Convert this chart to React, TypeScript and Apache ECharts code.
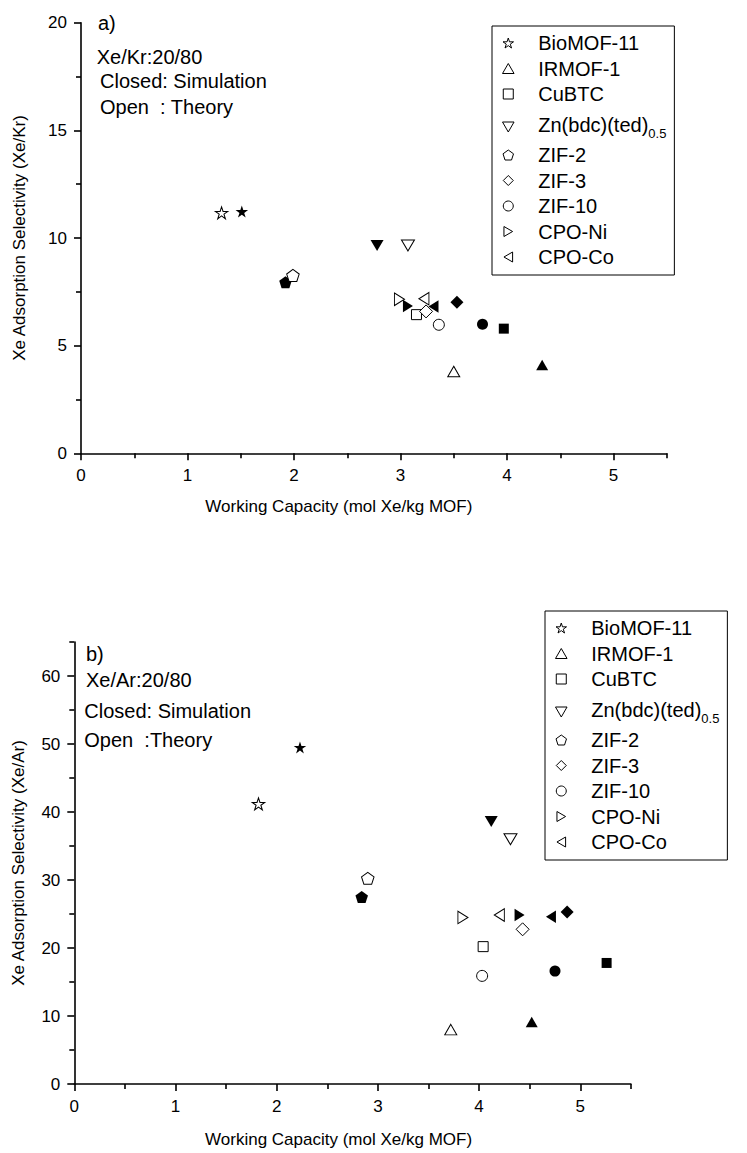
import React, { useEffect, useRef } from "react";
import * as echarts from "echarts";

// ---------- data ----------
const materials = [
  "BioMOF-11",
  "IRMOF-1",
  "CuBTC",
  "Zn(bdc)(ted)0.5",
  "ZIF-2",
  "ZIF-3",
  "ZIF-10",
  "CPO-Ni",
  "CPO-Co",
];

// a) Xe/Kr 20/80 : [working capacity, selectivity]
const krTheory = [
  [1.32, 11.17],
  [3.5, 3.8],
  [3.15, 6.44],
  [3.07, 9.65],
  [1.99, 8.26],
  [3.24, 6.59],
  [3.36, 5.97],
  [2.99, 7.15],
  [3.22, 7.18],
];
const krSimulation = [
  [1.51, 11.23],
  [4.33, 4.1],
  [3.97, 5.79],
  [2.78, 9.65],
  [1.92, 7.95],
  [3.53, 7.02],
  [3.77, 5.99],
  [3.07, 6.84],
  [3.31, 6.82],
];

// b) Xe/Ar 20/80
const arTheory = [
  [1.82, 41.2],
  [3.72, 8.0],
  [4.04, 20.2],
  [4.31, 36.0],
  [2.9, 30.25],
  [4.43, 22.75],
  [4.03, 15.9],
  [3.84, 24.5],
  [4.2, 24.85],
];
const arSimulation = [
  [2.23, 49.5],
  [4.52, 9.1],
  [5.26, 17.8],
  [4.12, 38.6],
  [2.84, 27.5],
  [4.87, 25.3],
  [4.75, 16.6],
  [4.4, 24.85],
  [4.71, 24.6],
];

const xMajor = [0, 1, 2, 3, 4, 5];
const xMinor = [0.5, 1.5, 2.5, 3.5, 4.5, 5.5];
const krYMajor = [0, 5, 10, 15, 20];
const krYMinor = [2.5, 7.5, 12.5, 17.5];
const arYMajor = [0, 10, 20, 30, 40, 50, 60];
const arYMinor = [5, 15, 25, 35, 45, 55, 65];

// ---------- styles ----------
const FONT = '"Liberation Sans", Arial, Helvetica, sans-serif';

const shapes = {
  star: "path://M50 0L61.17 34.63L97.55 34.55L68.07 55.87L79.39 90.45L50 69L20.61 90.45L31.93 55.87L2.45 34.55L38.83 34.63Z",
  up: "path://M50 0L100 86.6L0 86.6Z",
  square: "path://M0 0L100 0L100 100L0 100Z",
  down: "path://M0 0L100 0L50 86.6Z",
  pentagon: "path://M50 0L97.55 34.55L79.39 90.45L20.61 90.45L2.45 34.55Z",
  diamond: "path://M50 0L100 50L50 100L0 50Z",
  circle: "circle",
  right: "path://M0 0L86.6 50L0 100Z",
  left: "path://M86.6 0L0 50L86.6 100Z",
};

const markers = [
  { symbol: shapes.star, size: [12.5, 12] },
  { symbol: shapes.up, size: [12, 10.5] },
  { symbol: shapes.square, size: [10, 10] },
  { symbol: shapes.down, size: [13, 11] },
  { symbol: shapes.pentagon, size: [12.5, 12] },
  { symbol: shapes.diamond, size: [13, 13] },
  { symbol: shapes.circle, size: [11, 11] },
  { symbol: shapes.right, size: [10, 12.5] },
  { symbol: shapes.left, size: [10, 12.5] },
];

const labelStyle = { color: "#000", fontSize: 17, fontFamily: FONT };

function mainAxis(gridIndex: number, min: number, max: number, major: number[], extra: any) {
  return {
    type: "value",
    gridIndex,
    min,
    max,
    axisLine: { show: true, onZero: false, lineStyle: { color: "#000", width: 1.6 } },
    axisTick: { show: true, length: 7, customValues: major, lineStyle: { color: "#000", width: 1.6 } },
    axisLabel: { show: true, customValues: major, ...labelStyle, margin: 14 },
    splitLine: { show: false },
    ...extra,
  };
}
function minorAxis(gridIndex: number, min: number, max: number, minor: number[], position: string) {
  return {
    type: "value",
    gridIndex,
    min,
    max,
    position,
    axisLine: { show: false, onZero: false },
    axisTick: { show: true, length: 5, customValues: minor, lineStyle: { color: "#000", width: 1.6 } },
    axisLabel: { show: false },
    splitLine: { show: false },
  };
}

function buildSeries(theory: number[][], sim: number[][], axisIndex: number) {
  const out: any[] = [];
  materials.forEach((name, i) => {
    out.push({
      type: "scatter",
      name,
      xAxisIndex: axisIndex,
      yAxisIndex: axisIndex,
      data: [theory[i]],
      symbol: markers[i].symbol,
      symbolSize: markers[i].size,
      itemStyle: { color: "#fff", borderColor: "#000", borderWidth: 1, opacity: 1 },
      z: 4,
      silent: true,
    });
    out.push({
      type: "scatter",
      name,
      xAxisIndex: axisIndex,
      yAxisIndex: axisIndex,
      data: [sim[i]],
      symbol: markers[i].symbol,
      symbolSize: markers[i].size,
      itemStyle: { color: "#000", borderWidth: 0, opacity: 1 },
      z: 3,
      silent: true,
    });
  });
  return out;
}

function legend(left: number, top: number) {
  return {
    orient: "vertical",
    left,
    top,
    padding: [7, 8, 8, 10],
    itemWidth: 50,
    itemHeight: 10,
    itemGap: 5.5,
    borderColor: "#000",
    borderWidth: 1,
    borderRadius: 0,
    selectedMode: false,
    data: materials.map((name, i) => ({ name, icon: markers[i].symbol })),
    itemStyle: { color: "#fff", borderColor: "#000", borderWidth: 1 },
    formatter: (name: string) =>
      name === "Zn(bdc)(ted)0.5" ? "{m|Zn(bdc)(ted)}{s|0.5}" : name,
    textStyle: {
      color: "#000",
      fontSize: 20,
      fontFamily: FONT,
      rich: {
        m: { fontSize: 20, fontFamily: FONT, color: "#000", lineHeight: 25, verticalAlign: "top" },
        s: { fontSize: 13, fontFamily: FONT, color: "#000", lineHeight: 14, verticalAlign: "bottom", padding: [17, 0, 0, 0] },
      },
    },
  };
}

function txt(text: string, x: number, y: number) {
  return {
    type: "text",
    x,
    y,
    silent: true,
    style: { text, fill: "#000", fontSize: 20, fontFamily: FONT, align: "left", verticalAlign: "middle" },
  };
}

export default function App() {
  const ref = useRef<HTMLDivElement>(null);
  useEffect(() => {
    if (!ref.current) return;
    const chart = echarts.init(ref.current, null, { renderer: "svg" });
    const nameStyle = { color: "#000", fontSize: 17, fontFamily: FONT };
    chart.setOption({
      animation: false,
      backgroundColor: "#fff",
      grid: [
        { left: 81, top: 22.7, width: 585.75, height: 430.6 },
        { left: 74.3, top: 642, width: 556.6, height: 442 },
      ],
      xAxis: [
        mainAxis(0, 0, 5.5, xMajor, {
          position: "bottom",
          name: "Working Capacity (mol Xe/kg MOF)",
          nameLocation: "middle",
          nameGap: 45,
          nameTextStyle: { ...nameStyle, padding: [0, 70, 0, 0] },
        }),
        minorAxis(0, 0, 5.5, xMinor, "bottom"),
        mainAxis(1, 0, 5.5, xMajor, {
          position: "bottom",
          name: "Working Capacity (mol Xe/kg MOF)",
          nameLocation: "middle",
          nameGap: 47,
          nameTextStyle: { ...nameStyle, padding: [0, 28, 0, 0] },
        }),
        minorAxis(1, 0, 5.5, xMinor, "bottom"),
      ],
      yAxis: [
        mainAxis(0, 0, 20, krYMajor, {
          position: "left",
          name: "Xe Adsorption Selectivity (Xe/Kr)",
          nameLocation: "middle",
          nameGap: 53.5,
          nameTextStyle: nameStyle,
        }),
        minorAxis(0, 0, 20, krYMinor, "left"),
        mainAxis(1, 0, 65, arYMajor, {
          position: "left",
          name: "Xe Adsorption Selectivity (Xe/Ar)",
          nameLocation: "middle",
          nameGap: 47,
          nameTextStyle: nameStyle,
        }),
        minorAxis(1, 0, 65, arYMinor, "left"),
      ],
      legend: [legend(492, 26), legend(545, 611)],
      graphic: [
        txt("a)", 98, 22.7),
        txt("Xe/Kr:20/80", 96.7, 56.7),
        txt("Closed: Simulation", 100, 81),
        txt("Open  : Theory", 100, 106.7),
        txt("b)", 86, 654),
        txt("Xe/Ar:20/80", 86, 680),
        txt("Closed: Simulation", 84.3, 710.7),
        txt("Open  :Theory", 84.3, 740),
      ],
      series: [...buildSeries(krTheory, krSimulation, 0), ...buildSeries(arTheory, arSimulation, 2)],
    });
    return () => chart.dispose();
  }, []);
  return (
    <div
      ref={ref}
      style={{ position: "absolute", left: 0, top: 0, width: 747, height: 1153, background: "#fff" }}
    />
  );
}
